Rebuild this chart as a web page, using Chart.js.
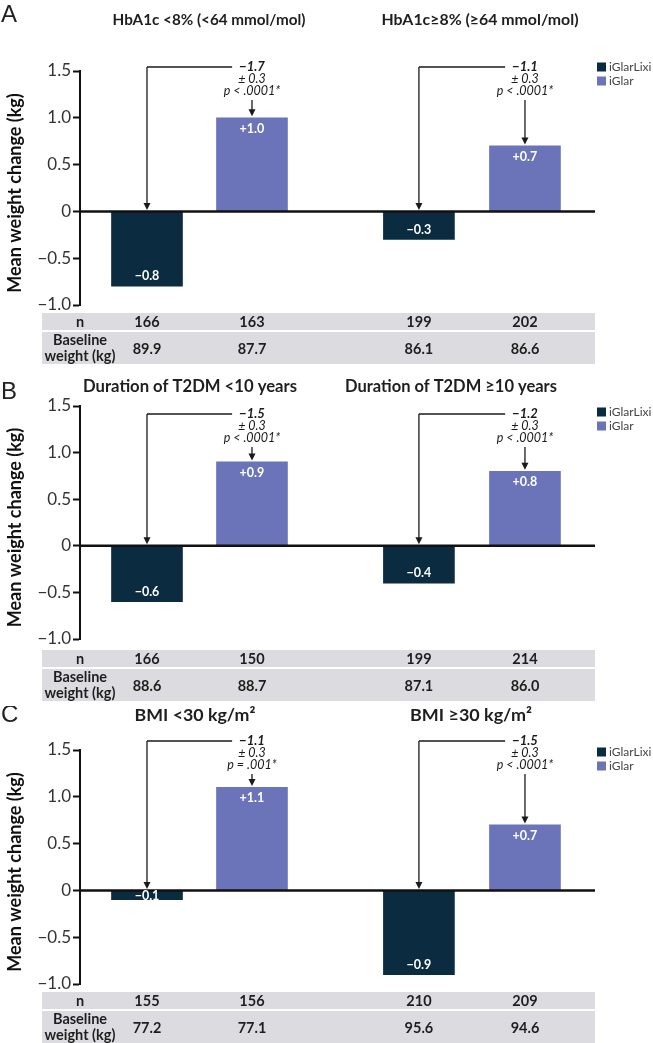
<!DOCTYPE html>
<html><head><meta charset="utf-8">
<script src="https://cdn.jsdelivr.net/npm/chart.js@4.4.0/dist/chart.umd.min.js"></script>
<style>
html,body{margin:0;padding:0;background:#fff;width:653px;height:1043px;overflow:hidden}
canvas{position:absolute;left:0}
</style></head><body>
<canvas id="c0"></canvas><canvas id="c1"></canvas><canvas id="c2"></canvas>
<script>
// ---------------- DATA ----------------
const panelLetters = ['A', 'B', 'C'];
const subgroupTitles = [
  ['HbA1c <8% (<64 mmol/mol)', 'HbA1c\u22658% (\u226564 mmol/mol)'],
  ['Duration of T2DM <10 years', 'Duration of T2DM \u226510 years'],
  ['BMI <30 kg/m\u00B2', 'BMI \u226530 kg/m\u00B2']
];
const seriesNames = ['iGlarLixi', 'iGlar'];
const iglarlixiChange = [[-0.8, -0.3], [-0.6, -0.4], [-0.1, -0.9]];
const iglarChange = [[1.0, 0.7], [0.9, 0.8], [1.1, 0.7]];
const diffLabels = [['\u22121.7', '\u22121.1'], ['\u22121.5', '\u22121.2'], ['\u22121.1', '\u22121.5']];
const seLabels = [['\u00B1 0.3', '\u00B1 0.3'], ['\u00B1 0.3', '\u00B1 0.3'], ['\u00B1 0.3', '\u00B1 0.3']];
const pLabels = [['p < .0001*', 'p < .0001*'], ['p < .0001*', 'p < .0001*'], ['p = .001*', 'p < .0001*']];
const nIglarLixi = [[166, 199], [166, 199], [155, 210]];
const nIglar = [[163, 202], [150, 214], [156, 209]];
const baselineIglarLixi = [[89.9, 86.1], [88.6, 87.1], [77.2, 95.6]];
const baselineIglar = [[87.7, 86.6], [88.7, 86.0], [77.1, 94.6]];
const yTickValues = [-1.0, -0.5, 0, 0.5, 1.0, 1.5];
const yTickLabels = ['\u22121.0', '\u22120.5', '0', '0.5', '1.0', '1.5'];
const yAxisTitle = 'Mean weight change (kg)';
const rowLabelN = 'n';
const rowLabelBaseline = ['Baseline', 'weight (kg)'];

// ---------------- LAYOUT / STYLE ----------------
const FAM = 'Lato, "Open Sans", sans-serif';
const COLORS = ['#0a2b40', '#6b74b8'];
const SLOT = [1, 2, 3.59, 4.6];
const LAYOUT = [
  {top:0,   h:372, letterY:15,  titleY:20,  plotTop:71,  plotBottom:305, tableTop:313, bracketY:67,  legendY:67,  titleCx:[209,480], titleW:[193,197], titleWeight:'bold'},
  {top:372, h:334, letterY:392, titleY:387, plotTop:406, plotBottom:639, tableTop:650, bracketY:414, legendY:412, titleCx:[190,451], titleW:[214,212], titleWeight:'bold'},
  {top:706, h:337, letterY:715, titleY:715, plotTop:750, plotBottom:984, tableTop:992, bracketY:741, legendY:752, titleCx:[195,471], titleW:[121,122], titleWeight:'bold'}
];

function fmtSigned(v){ return (v > 0 ? '+' : '\u2212') + Math.abs(v).toFixed(1); }

function arrowDown(ctx, x, y1, y2){
  ctx.beginPath(); ctx.moveTo(x, y1); ctx.lineTo(x, y2 - 6); ctx.stroke();
  ctx.beginPath(); ctx.moveTo(x - 3.5, y2 - 7); ctx.lineTo(x + 3.5, y2 - 7); ctx.lineTo(x, y2); ctx.closePath(); ctx.fill();
}

function fitFont(ctx, text, weight, target){
  ctx.font = weight + ' 100px ' + FAM;
  const w = ctx.measureText(text).width;
  return Math.min(20, 100 * target / w);
}

function makePlugin(i){
  const L = LAYOUT[i];
  const off = L.top;
  return {
    id: 'panel' + i,
    afterDatasetsDraw(chart){
      const {ctx, chartArea, scales:{y}} = chart;
      const zy = y.getPixelForValue(0);
      ctx.save();
      ctx.strokeStyle = '#111'; ctx.lineWidth = 2.5;
      ctx.beginPath(); ctx.moveTo(chartArea.left, zy); ctx.lineTo(chartArea.right, zy); ctx.stroke();
      ctx.fillStyle = '#fff'; ctx.font = 'bold 12.5px ' + FAM; ctx.textAlign = 'center'; ctx.textBaseline = 'middle';
      [iglarlixiChange[i], iglarChange[i]].forEach((vals, d) => {
        const meta = chart.getDatasetMeta(d);
        vals.forEach((v, k) => {
          const el = meta.data[k];
          const ty = v > 0 ? el.y + 11 : Math.max(el.y - 10, el.base + 5);
          ctx.fillText(fmtSigned(v), el.x, ty);
        });
      });
      ctx.strokeStyle = '#1a1a1a'; ctx.fillStyle = '#1a1a1a'; ctx.lineWidth = 1.3;
      for (let g = 0; g < 2; g++){
        const e1 = chart.getDatasetMeta(0).data[g];
        const e2 = chart.getDatasetMeta(1).data[g];
        const by = L.bracketY - off;
        ctx.font = 'italic bold 13px ' + FAM;
        const tw = ctx.measureText(diffLabels[i][g]).width;
        ctx.beginPath(); ctx.moveTo(e2.x - tw/2 - 7, by); ctx.lineTo(e1.x, by); ctx.stroke();
        arrowDown(ctx, e1.x, by, zy - 1.5);
        ctx.textAlign = 'center'; ctx.textBaseline = 'middle';
        ctx.fillText(diffLabels[i][g], e2.x, by);
        ctx.font = 'italic 12.5px ' + FAM;
        ctx.fillText(seLabels[i][g], e2.x, by + 12);
        ctx.fillText(pLabels[i][g], e2.x, by + 24);
        arrowDown(ctx, e2.x, by + 33, e2.y - 1.5);
      }
      ctx.restore();
    },
    afterDraw(chart){
      const {ctx, chartArea} = chart;
      const barX = [0,1].flatMap(g => [chart.getDatasetMeta(0).data[g].x, chart.getDatasetMeta(1).data[g].x]);
      ctx.save();
      ctx.fillStyle = '#222'; ctx.font = '24px "Liberation Sans", Arial, sans-serif';
      ctx.textAlign = 'left'; ctx.textBaseline = 'middle';
      ctx.fillText(panelLetters[i], 1, L.letterY - off);
      ctx.textAlign = 'center';
      for (let g = 0; g < 2; g++){
        const fs = fitFont(ctx, subgroupTitles[i][g], L.titleWeight, L.titleW[g]);
        ctx.font = L.titleWeight + ' ' + fs.toFixed(2) + 'px ' + FAM;
        ctx.fillStyle = '#1e1e1e';
        ctx.fillText(subgroupTitles[i][g], L.titleCx[g], L.titleY - off);
      }
      ctx.save();
      ctx.translate(15, (L.plotTop + L.plotBottom) / 2 - off + 5);
      ctx.rotate(-Math.PI / 2);
      ctx.font = 'bold 18px ' + FAM; ctx.fillStyle = '#111'; ctx.textAlign = 'center'; ctx.textBaseline = 'middle';
      ctx.fillText(yAxisTitle, 0, 0);
      ctx.restore();
      ctx.font = '12px ' + FAM; ctx.textAlign = 'left'; ctx.textBaseline = 'middle';
      seriesNames.forEach((nm, s) => {
        const ly = L.legendY - off + s * 14;
        ctx.fillStyle = COLORS[s]; ctx.fillRect(597, ly - 4.5, 9, 9);
        ctx.fillStyle = '#444'; ctx.fillText(nm, 609, ly);
      });
      const tx0 = 42, tx1 = chartArea.right;
      const t0 = L.tableTop - off;
      ctx.fillStyle = '#dcdce0';
      ctx.fillRect(tx0, t0, tx1 - tx0, 17);
      ctx.fillRect(tx0, t0 + 19, tx1 - tx0, 32);
      ctx.fillStyle = '#1e1e1e'; ctx.font = 'bold 14.5px ' + FAM; ctx.textAlign = 'center'; ctx.textBaseline = 'middle';
      ctx.fillText(rowLabelN, 80, t0 + 9);
      ctx.fillText(rowLabelBaseline[0], 80, t0 + 27);
      ctx.fillText(rowLabelBaseline[1], 80, t0 + 43);
      const nVals = [nIglarLixi[i][0], nIglar[i][0], nIglarLixi[i][1], nIglar[i][1]];
      const bVals = [baselineIglarLixi[i][0], baselineIglar[i][0], baselineIglarLixi[i][1], baselineIglar[i][1]];
      barX.forEach((x, k) => {
        ctx.fillText(String(nVals[k]), x, t0 + 9);
        ctx.fillText(bVals[k].toFixed(1), x, t0 + 36);
      });
      ctx.restore();
    }
  };
}

for (let i = 0; i < 3; i++){
  const L = LAYOUT[i];
  const cv = document.getElementById('c' + i);
  cv.width = 653; cv.height = L.h; cv.style.top = L.top + 'px';
  new Chart(cv, {
    type: 'bar',
    data: {
      datasets: [
        {label: seriesNames[0], data: iglarlixiChange[i].map((v, g) => ({x: SLOT[g*2], y: v})),
         backgroundColor: COLORS[0], barThickness: 71, grouped: false},
        {label: seriesNames[1], data: iglarChange[i].map((v, g) => ({x: SLOT[g*2+1], y: v})),
         backgroundColor: COLORS[1], barThickness: 71, grouped: false}
      ]
    },
    options: {
      responsive: false, animation: false, devicePixelRatio: 1,
      layout: {padding: {top: L.plotTop - L.top, bottom: L.top + L.h - L.plotBottom, left: 0, right: 58}},
      plugins: {legend: {display: false}, tooltip: {enabled: false}},
      scales: {
        x: {type: 'linear', min: 0.362, max: 5.267, offset: false, display: false},
        y: {
          min: -1, max: 1.5,
          afterFit(s){ s.width = 80; },
          afterBuildTicks(s){ s.ticks = yTickValues.map(v => ({value: v})); },
          ticks: {
            callback: (v) => { const k = yTickValues.findIndex(t => Math.abs(t - v) < 1e-9); return k >= 0 ? yTickLabels[k] : ''; },
            font: {family: FAM, size: 17}, color: '#333', padding: 2
          },
          grid: {drawOnChartArea: false, drawTicks: true, tickLength: 7, tickColor: '#111', tickWidth: 2},
          border: {display: true, color: '#111', width: 2}
        }
      }
    },
    plugins: [makePlugin(i)]
  });
}
</script>
</body></html>
